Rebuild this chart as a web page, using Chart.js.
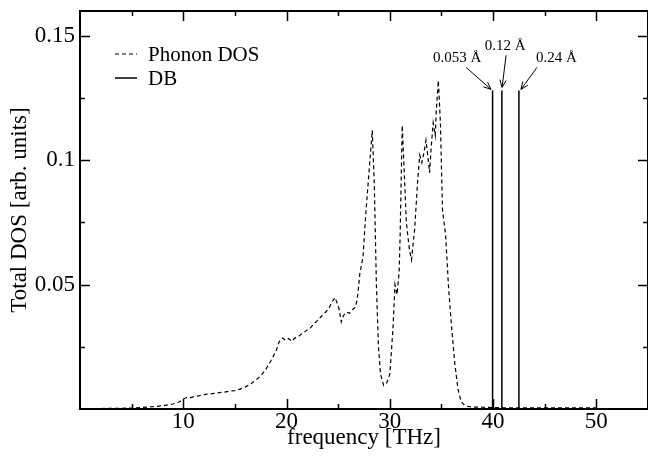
<!DOCTYPE html>
<html><head><meta charset="utf-8">
<script src="https://cdn.jsdelivr.net/npm/chart.js@4/dist/chart.umd.min.js"></script>
<style>html,body{margin:0;padding:0;background:#fff}#wrap{width:648px;height:460px}</style>
</head><body><div id="wrap"><canvas id="c" width="648" height="460"></canvas></div>
<script>
// ---- data ----
const dosFreq = [0,1,2,3,4,5,6,7,8,9,9.6,10.0,10.3,10.6,11.0,11.5,12.0,12.5,13.0,13.5,14.0,14.5,15.0,15.5,16.0,16.5,17.0,17.5,18.0,18.5,19.0,19.3,19.6,19.9,20.2,20.5,20.8,21.1,21.4,21.7,22.0,22.3,22.6,22.9,23.2,23.5,23.8,24.1,24.4,24.7,24.9,25.1,25.3,25.5,25.8,26.1,26.4,26.7,26.9,27.1,27.4,27.7,28.0,28.3,28.5,28.7,28.9,29.1,29.4,29.7,30.0,30.3,30.5,30.7,30.9,31.0,31.2,31.4,31.6,31.9,32.1,32.4,32.7,32.9,33.1,33.3,33.5,33.7,33.85,34.0,34.2,34.4,34.5,34.7,34.9,35.1,35.4,35.7,36.0,36.3,36.6,36.9,37.3,38,39,40,41,42,43,44,45,46,47,48,49,50];
const dosValue = [0.0002,0.0002,0.0002,0.0003,0.0003,0.0004,0.0006,0.0009,0.0013,0.0020,0.0028,0.0040,0.0046,0.0044,0.0050,0.0053,0.0058,0.0060,0.0063,0.0066,0.0068,0.0072,0.0074,0.0080,0.0088,0.0100,0.0115,0.0133,0.0160,0.0195,0.0235,0.0272,0.0285,0.0276,0.0283,0.0272,0.0285,0.0290,0.0300,0.0308,0.0318,0.0325,0.0340,0.0352,0.0365,0.0378,0.0390,0.0405,0.0430,0.0448,0.0425,0.0400,0.0350,0.0375,0.0390,0.0385,0.0400,0.0410,0.0460,0.0545,0.0610,0.0800,0.0960,0.1120,0.0900,0.0500,0.0250,0.0140,0.0095,0.0105,0.0140,0.0320,0.0500,0.0460,0.0550,0.0700,0.1140,0.0950,0.0750,0.0640,0.0600,0.0720,0.0920,0.1020,0.0990,0.1030,0.1080,0.1010,0.0950,0.1050,0.1150,0.1100,0.1200,0.1320,0.1150,0.0800,0.0700,0.0480,0.0320,0.0180,0.0080,0.0030,0.0012,0.0008,0.0007,0.0006,0.0005,0.0005,0.0005,0.0005,0.0005,0.0005,0.0005,0.0005,0.0005,0.0005];
const dbFreq = [39.95, 40.85, 42.5];
const dbHeight = [0.128, 0.128, 0.128];
const dbLabels = ["0.053 Å", "0.12 Å", "0.24 Å"];
const seriesNames = ["Phonon DOS", "DB"];
const xMajorTicks = [10, 20, 30, 40, 50];
const xMinorTicks = [5, 15, 25, 35, 45, 55];
const yMajorTicks = [0.05, 0.1, 0.15];
const yMinorTicks = [0.025, 0.075, 0.125];

// ---- build library data ----
const dosPoints = dosFreq.map((f, i) => ({x: f, y: dosValue[i]}));
const dbPoints = [];
dbFreq.forEach((f, i) => { dbPoints.push({x: f, y: 0}, {x: f, y: dbHeight[i]}, {x: f, y: null}); });

const FONT = "'Liberation Serif', 'Times New Roman', serif";

const decor = {
  id: 'decor',
  afterDatasetsDraw(chart, args, o) {
    const {ctx, chartArea: a, scales: {x, y}} = chart;
    ctx.save();
    ctx.strokeStyle = '#000';
    ctx.lineWidth = 1.5;
    ctx.setLineDash([]);
    ctx.beginPath();
    const xt = (v, len) => { const p = Math.round(x.getPixelForValue(v)) + 0.5;
      ctx.moveTo(p, a.bottom); ctx.lineTo(p, a.bottom - len);
      ctx.moveTo(p, a.top); ctx.lineTo(p, a.top + len); };
    const yt = (v, len) => { const p = Math.round(y.getPixelForValue(v)) + 0.5;
      ctx.moveTo(a.left, p); ctx.lineTo(a.left + len, p);
      ctx.moveTo(a.right, p); ctx.lineTo(a.right - len, p); };
    xMajorTicks.forEach(v => xt(v, 10)); xMinorTicks.forEach(v => xt(v, 5));
    yMajorTicks.forEach(v => yt(v, 10)); yMinorTicks.forEach(v => yt(v, 5));
    ctx.stroke();
    ctx.lineWidth = 2;
    ctx.strokeRect(a.left, a.top, a.right - a.left, a.bottom - a.top);

    // legend
    ctx.font = '21px ' + FONT;
    ctx.fillStyle = '#000';
    ctx.textBaseline = 'middle';
    chart.data.datasets.forEach((ds, i) => {
      const ly = o.legendY[i];
      ctx.lineWidth = ds.borderWidth;
      ctx.setLineDash(ds.borderDash || []);
      ctx.beginPath(); ctx.moveTo(o.legendX, ly); ctx.lineTo(o.legendX + 22, ly); ctx.stroke();
      ctx.setLineDash([]);
      ctx.fillText(ds.label, o.legendX + 33, ly + 1);
    });

    // annotations
    ctx.font = '15px ' + FONT;
    ctx.textAlign = 'center';
    ctx.lineWidth = 1;
    dbLabels.forEach((t, i) => {
      const L = o.labels[i];
      ctx.fillText(t, x.getPixelForValue(L[0]), y.getPixelForValue(L[1]));
      const x1 = x.getPixelForValue(L[2]), y1 = y.getPixelForValue(L[3]);
      const x2 = x.getPixelForValue(L[4]), y2 = y.getPixelForValue(L[5]);
      ctx.beginPath(); ctx.moveTo(x1, y1); ctx.lineTo(x2, y2); ctx.stroke();
      const ang = Math.atan2(y2 - y1, x2 - x1), h = 8, w = 0.4;
      ctx.beginPath();
      ctx.moveTo(x2 - h * Math.cos(ang - w), y2 - h * Math.sin(ang - w));
      ctx.lineTo(x2, y2);
      ctx.lineTo(x2 - h * Math.cos(ang + w), y2 - h * Math.sin(ang + w));
      ctx.stroke();
    });
    ctx.restore();
  }
};

new Chart(document.getElementById('c'), {
  type: 'scatter',
  data: {
    datasets: [
      {label: seriesNames[0], data: dosPoints, showLine: true, borderColor: '#000', borderWidth: 1.2,
       borderDash: [4, 3], pointRadius: 0, tension: 0, spanGaps: false},
      {label: seriesNames[1], data: dbPoints, showLine: true, borderColor: '#000', borderWidth: 1.5,
       pointRadius: 0, tension: 0, spanGaps: false}
    ]
  },
  options: {
    responsive: false, animation: false, devicePixelRatio: 1,
    layout: {padding: {top: 11, right: 0, left: 0, bottom: 0}},
    plugins: {
      legend: {display: false}, tooltip: {enabled: false},
      decor: {
        legendX: 115, legendY: [54, 78],
        labels: [
          [36.52, 0.1410, 37.39, 0.1373, 39.80, 0.1285],
          [41.16, 0.1458, 41.26, 0.1422, 40.87, 0.1293],
          [46.14, 0.1410, 44.25, 0.1373, 42.70, 0.1285]
        ]
      }
    },
    scales: {
      x: {
        type: 'linear', min: 0, max: 55,
        grid: {display: false, drawTicks: false}, border: {display: false},
        afterBuildTicks: s => { s.ticks = xMajorTicks.map(v => ({value: v})); },
        afterFit: s => { s.height = 51; s.paddingLeft = 0; s.paddingRight = 0; },
        ticks: {autoSkip: false, maxRotation: 0, padding: -1, color: '#000', font: {family: FONT, size: 23},
                callback: v => String(v)},
        title: {display: true, text: 'frequency [THz]', color: '#000', font: {family: FONT, size: 23},
                padding: {top: 0, bottom: 8}}
      },
      y: {
        type: 'linear', min: 0, max: 0.16,
        grid: {display: false, drawTicks: false}, border: {display: false},
        afterBuildTicks: s => { s.ticks = yMajorTicks.map(v => ({value: v})); },
        afterFit: s => { s.width = 80; s.paddingTop = 0; s.paddingBottom = 0; },
        ticks: {autoSkip: false, padding: 5, color: '#000', font: {family: FONT, size: 23},
                callback: v => String(v)},
        title: {display: true, text: 'Total DOS [arb. units]', color: '#000', font: {family: FONT, size: 23},
                padding: {top: 6, bottom: 0}}
      }
    }
  },
  plugins: [decor]
});
</script>
</body></html>
